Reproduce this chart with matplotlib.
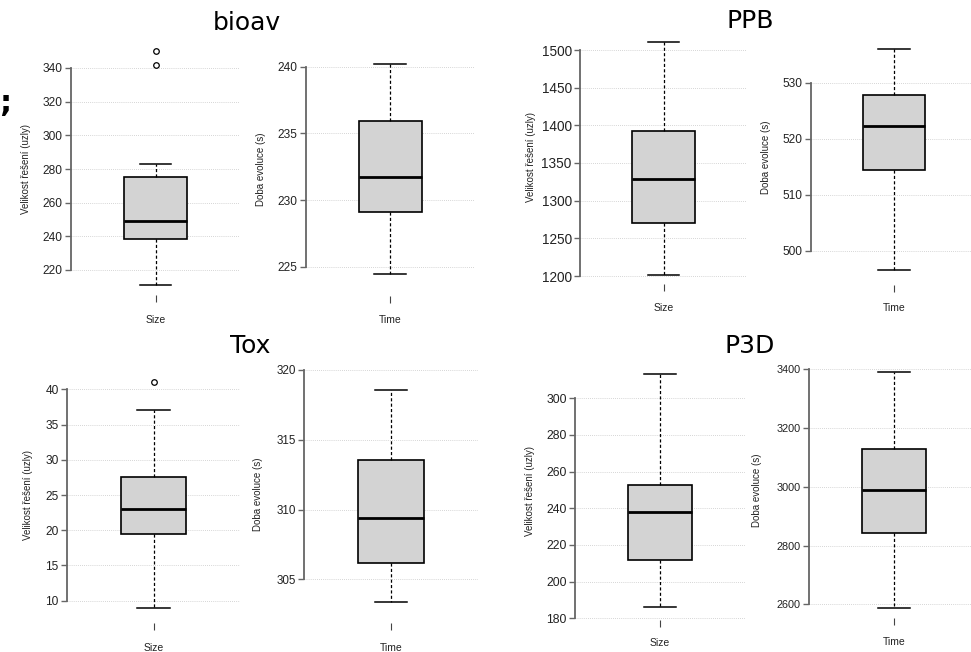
import matplotlib
matplotlib.use("Agg")
import matplotlib.pyplot as plt

# ---- data ----
datasets = ["bioav", "PPB", "Tox", "P3D"]

size_whislo = [211, 1201, 9, 186]
size_q1 = [238.5, 1271, 19.5, 212]
size_med = [249, 1329, 23, 238]
size_q3 = [275, 1393, 27.5, 252.5]
size_whishi = [283, 1510, 37, 313]
size_fliers = [[342, 350], [], [41], []]

time_whislo = [224.45, 496.5, 303.4, 2588]
time_q1 = [229.1, 514.4, 306.15, 2844]
time_med = [231.75, 522.3, 309.4, 2990]
time_q3 = [235.9, 527.8, 313.55, 3128]
time_whishi = [240.2, 536.1, 318.57, 3390]
time_fliers = [[], [], [], []]

size_ticks = [[220, 240, 260, 280, 300, 320, 340],
              [1200, 1250, 1300, 1350, 1400, 1450, 1500],
              [10, 15, 20, 25, 30, 35, 40],
              [180, 200, 220, 240, 260, 280, 300]]
time_ticks = [[225, 230, 235, 240],
              [500, 510, 520, 530],
              [305, 310, 315, 320],
              [2600, 2800, 3000, 3200, 3400]]

size_label = "Velikost řešení (uzly)"
time_label = "Doba evoluce (s)"

# ---- layout (pixels in a 971x652 canvas) ----
W, H = 971, 652
# (left, right, top, bottom, tick_hi_px, tick_lo_px, xlabel_y, tick_fontsize, ylabel_x)
size_layout = [(71, 240, 42, 295, 68.0, 270.0, 320, 8.6, 26),
               (580, 747, 30, 284, 50.0, 276.0, 308, 9.8, 531),
               (67, 240, 368, 623, 389.3, 600.7, 648, 8.6, 28),
               (575, 745, 362, 620, 398.3, 618.3, 643, 8.8, 530)]
time_layout = [(306, 474, 42, 296, 66.7, 266.7, 320, 8.6, 261),
               (811, 977, 30, 285, 82.7, 250.7, 308, 8.6, 766),
               (304, 478, 365, 623, 370.0, 579.3, 648, 8.4, 258),
               (809, 979, 362, 618, 369.3, 604.3, 642, 7.8, 757)]
title_pos = [(247, 30), (750, 28.3), (250, 353), (749.5, 353)]

fig = plt.figure(figsize=(W / 100, H / 100), dpi=100)
fig.patch.set_facecolor("white")

SANS = ["Liberation Sans", "DejaVu Sans"]


def draw_panel(lay, ticks, stats, ylabel, xlabel):
    left, right, top, bottom, phi, plo, xly, tfs, ylx = lay
    ax = fig.add_axes([left / W, 1 - bottom / H, (right - left) / W, (bottom - top) / H])
    thi, tlo = ticks[-1], ticks[0]
    upp = (thi - tlo) / (plo - phi)  # units per pixel
    ymax = thi + (phi - top) * upp
    ymin = tlo - (bottom - plo) * upp
    ax.set_ylim(ymin, ymax)
    ax.set_xlim(0, 2)
    ax.bxp([stats], positions=[1], widths=0.75, patch_artist=True,
           showfliers=True,
           boxprops=dict(facecolor="#d3d3d3", edgecolor="black", linewidth=1.2),
           medianprops=dict(color="black", linewidth=2.0),
           whiskerprops=dict(color="black", linestyle=(0, (2.5, 1.8)), linewidth=0.9),
           capprops=dict(color="black", linewidth=1.1),
           flierprops=dict(marker="o", markerfacecolor="none", markeredgecolor="black",
                           markersize=4, markeredgewidth=0.9))
    ax.set_yticks(ticks)
    ax.set_yticklabels([str(t) for t in ticks], fontsize=tfs, color="#222222", family=SANS)
    ax.yaxis.grid(True, linestyle=(0, (1, 1.5)), color="#c8c8c8", linewidth=0.6)
    ax.set_axisbelow(True)
    for s in ["top", "right", "bottom"]:
        ax.spines[s].set_visible(False)
    ax.spines["left"].set_bounds(tlo, thi)
    ax.spines["left"].set_color("#666666")
    ax.spines["left"].set_linewidth(1.3)
    ax.tick_params(axis="y", length=4, width=1.0, color="#666666", pad=2)
    ax.set_xticks([1])
    ax.set_xticklabels([""])
    ax.tick_params(axis="x", length=5, width=0.8, color="#444444")
    ax.set_ylabel(ylabel, fontsize=7, family=SANS, color="#222222")
    ax.yaxis.set_label_coords((ylx - left) / (right - left), 0.5)
    ax.yaxis.label.set_va("center")
    fig.text((left + right) / 2 / W, 1 - xly / H, xlabel, fontsize=7.5, family=SANS,
             color="#222222", ha="center", va="center")
    return ax


for i, name in enumerate(datasets):
    sstats = dict(med=size_med[i], q1=size_q1[i], q3=size_q3[i],
                  whislo=size_whislo[i], whishi=size_whishi[i], fliers=size_fliers[i])
    tstats = dict(med=time_med[i], q1=time_q1[i], q3=time_q3[i],
                  whislo=time_whislo[i], whishi=time_whishi[i], fliers=time_fliers[i])
    draw_panel(size_layout[i], size_ticks[i], sstats, size_label, "Size")
    draw_panel(time_layout[i], time_ticks[i], tstats, time_label, "Time")
    tx, ty = title_pos[i]
    fig.text(tx / W, 1 - ty / H, name, fontsize=18, family="DejaVu Sans",
             ha="center", va="baseline", color="black")

# stray glyph at the left edge of the reference
fig.text(-1 / W, 1 - 104 / H, ";", fontsize=22, fontweight="bold", family="DejaVu Sans",
         ha="left", va="center", color="black")

fig.savefig("out.png", dpi=100, facecolor="white")
